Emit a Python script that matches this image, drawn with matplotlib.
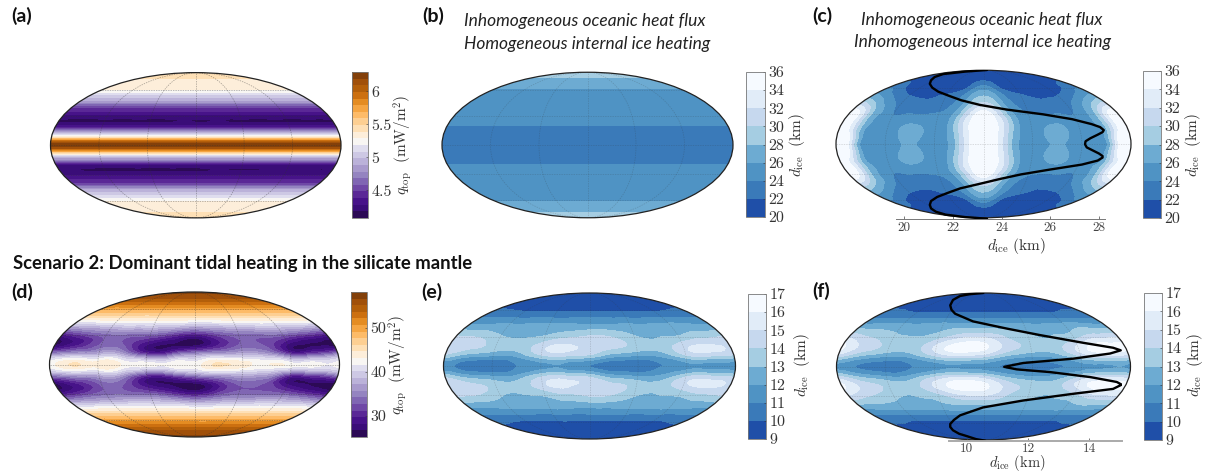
import numpy as np
import matplotlib
matplotlib.use("Agg")
import matplotlib.pyplot as plt
import matplotlib.tri as mtri
from matplotlib import ticker

W, H = 1210, 471
plt.rcParams["mathtext.fontset"] = "cm"
plt.rcParams["axes.unicode_minus"] = False

# ---------- palettes
ice_colors = ["#1f4fa8", "#3a7ab9", "#4f93c4", "#6dabd2", "#a5cde2", "#c6d8ee", "#e1ecf8", "#f6faff"]
q_colors = ["#2c0a55", "#3a0d78", "#471389", "#5a2896", "#6f48a6", "#8066b3", "#9484c0", "#a89acc",
            "#bbb2d9", "#cdc8e4", "#dfddee", "#f8f6f3", "#fdeeda", "#fee0b6", "#fdcf92",
            "#fdbb68", "#f5a542", "#e48c22", "#cc7010", "#b35f0a", "#a0500a", "#83400a"]

# ---------- (a) q_top, zonal profile, with the dark band per longitude
a_lat = [0, 2.5, 5, 7.5, 10, 12.5, 15, 17.5, 20, 25, 30, 35, 40, 47, 55, 61, 75, 90]
a_q = [6.28, 6.15, 5.8, 5.45, 5.15, 4.9, 4.7, 4.45, 4.25, 4.15, 4.25, 4.38, 4.5, 4.9, 5.12, 5.3, 5.38, 5.42]
a_lon = [-180, -165, -150, -135, -120, -105, -90, -75, -60, -45, -30, -15, 0, 15, 30, 45, 60, 75, 90, 105, 120, 135, 150, 165, 180]
a_dark_n = [4.15, 4.14, 4.14, 4.14, 4.15, 4.14, 4.14, 4.15, 4.14, 4.14, 4.15, 4.2, 4.15, 4.15, 4.21, 4.14, 4.15, 4.14, 4.14, 4.15, 4.14, 4.14, 4.15, 4.14, 4.15]
a_dark_s = [4.22, 4.22, 4.16, 4.14, 4.13, 4.13, 4.13, 4.14, 4.13, 4.13, 4.14, 4.13, 4.13, 4.15, 4.2, 4.16, 4.16, 4.16, 4.17, 4.17, 4.21, 4.22, 4.22, 4.16, 4.22]

# ---------- (b) d_ice, zonal profile
b_lat = [0, 20, 61, 78, 90]
b_d = [23.0, 24.0, 26.0, 28.0, 29.0]

# ---------- (c) d_ice, lon 0..180 (mirrored), lat 0..90 (mirrored)
c_lon = [0, 15, 30, 45, 60, 75, 90, 105, 120, 135, 150, 165, 180]
c_lat = [0, 10, 20, 30, 40, 50, 60, 70, 80, 90]
c_d = [
    [34.8, 34.3, 29.5, 25.7, 25.0, 25.6, 26.3, 25.6, 24.8, 24.6, 25.6, 34.0, 35.9],
    [35.9, 34.6, 30.0, 25.9, 25.1, 26.0, 26.9, 26.0, 25.0, 25.0, 26.5, 34.0, 35.9],
    [35.9, 34.6, 30.5, 26.0, 25.0, 25.5, 26.0, 25.5, 24.8, 25.3, 27.3, 33.0, 35.9],
    [35.5, 33.0, 28.5, 25.3, 24.3, 24.0, 24.0, 24.0, 24.0, 25.5, 28.0, 33.5, 35.9],
    [31.0, 29.5, 26.0, 24.0, 22.8, 22.4, 22.5, 22.7, 23.2, 25.0, 27.0, 30.0, 32.0],
    [28.0, 27.0, 24.5, 23.0, 22.3, 21.9, 21.7, 21.8, 22.1, 23.0, 24.5, 26.0, 27.0],
    [25.0, 24.0, 22.0, 21.0, 20.7, 20.6, 20.6, 20.7, 21.0, 21.5, 22.2, 23.5, 24.0],
    [21.9, 21.7, 21.2, 20.8, 20.6, 20.5, 20.5, 20.6, 20.8, 21.1, 21.4, 21.7, 22.0],
    [21.2, 21.1, 21.0, 20.9, 20.8, 20.8, 20.8, 20.8, 20.9, 21.0, 21.1, 21.2, 21.3],
    [21.0, 21.0, 21.0, 21.0, 21.0, 21.0, 21.0, 21.0, 21.0, 21.0, 21.0, 21.0, 21.0],
]
c_prof_lat = [90, 85, 80, 75, 70, 65, 60, 55, 50, 45, 40, 35, 30, 25, 20, 17, 14, 12, 9.5, 6, 3, 0,
              -3, -6, -9, -11.5, -13, -16, -20, -25, -30, -35, -40, -45, -50, -55, -60, -65, -70, -75, -80, -85, -90]
c_prof_d = [23.4, 22.5, 21.6, 21.25, 21.1, 21.05, 21.15, 21.4, 21.85, 22.35, 23.1, 24.2, 25.7, 26.9, 27.7, 28.05, 28.2, 28.15, 27.95, 27.65, 27.45, 27.43,
            27.5, 27.75, 28.0, 28.15, 28.15, 27.95, 27.3, 26.0, 24.8, 23.9, 23.1, 22.3, 21.8, 21.35, 21.1, 21.05, 21.1, 21.3, 21.7, 22.5, 23.4]

# ---------- (d,e,f) one half-turn of longitude, repeating every 180 deg
half_lon = [-180, -150, -120, -90, -60, -30]
half_lat = [0, 10, 20, 30, 40, 50, 60, 70, 80, 90]
d_q = [
    [42.5, 45.0, 44.0, 43.0, 42.5, 42.5],
    [36.0, 37.5, 38.0, 37.0, 32.0, 33.0],
    [26.0, 29.5, 33.0, 32.5, 28.0, 26.5],
    [29.0, 31.5, 33.5, 33.5, 33.0, 31.0],
    [38.0, 38.5, 39.0, 39.5, 39.5, 39.0],
    [45.0, 45.0, 45.0, 45.0, 45.0, 45.0],
    [49.5, 49.5, 49.5, 49.5, 49.5, 49.5],
    [53.5, 53.5, 53.5, 53.5, 53.5, 53.5],
    [56.0, 56.0, 56.0, 56.0, 56.0, 56.0],
    [57.5, 57.5, 57.5, 57.5, 57.5, 57.5],
]
e_d = [
    [11.0, 10.3, 10.3, 11.0, 11.6, 11.6],
    [13.6, 12.3, 11.9, 12.2, 13.7, 14.0],
    [14.7, 14.3, 13.6, 13.4, 14.6, 15.2],
    [14.1, 13.9, 13.1, 12.9, 13.1, 13.7],
    [12.5, 12.5, 12.4, 12.4, 12.5, 12.5],
    [11.1, 11.1, 11.1, 11.1, 11.1, 11.1],
    [9.9, 9.9, 9.9, 9.9, 9.9, 9.9],
    [9.5, 9.5, 9.5, 9.5, 9.5, 9.5],
    [9.2, 9.2, 9.2, 9.2, 9.2, 9.2],
    [9.5, 9.5, 9.5, 9.5, 9.5, 9.5],
]
f_d = [
    [11.6, 10.8, 10.4, 10.9, 11.5, 11.8],
    [14.2, 12.7, 12.0, 12.3, 13.8, 14.6],
    [16.3, 14.6, 13.7, 13.5, 15.2, 16.5],
    [14.8, 13.9, 13.2, 13.0, 13.5, 14.6],
    [12.8, 12.7, 12.6, 12.5, 12.7, 12.9],
    [11.0, 11.0, 11.0, 11.0, 11.0, 11.0],
    [9.8, 9.8, 9.8, 9.8, 9.8, 9.8],
    [9.4, 9.4, 9.4, 9.4, 9.4, 9.4],
    [9.2, 9.2, 9.2, 9.2, 9.2, 9.2],
    [9.3, 9.3, 9.3, 9.3, 9.3, 9.3],
]
# at 60 deg latitude the darkest band stops short of the map edge
edge_lon = [180, 150]
e_lat60_edge = [10.35, 10.05]
f_lat60_edge = [10.3, 10.05]

f_prof_lat = [90, 86, 82, 75, 67, 61, 56, 47, 39, 32, 24, 19, 16.4, 13.2, 8.1, 3.8, 0,
              -2.5, -5.2, -10.1, -15, -17.7, -22, -27, -34, -41.5, -50.5, -56, -61, -65, -69.7, -75, -79, -85, -90]
f_prof_d = [10.54, 10.1, 9.78, 9.55, 9.46, 9.5, 9.62, 10.2, 11.3, 12.39, 13.8, 14.77, 15.02, 14.67, 13.47, 11.84, 11.22,
            11.63, 12.72, 14.02, 14.89, 15.05, 14.77, 13.47, 11.84, 10.53, 9.78, 9.58, 9.46, 9.46, 9.55, 9.75, 10.0, 10.3, 10.6]

a_ticks = [4.5, 5, 5.5, 6]
d_ticks = [30, 40, 50]
bc_ticks = [20, 22, 24, 26, 28, 30, 32, 34, 36]
ef_ticks = [9, 10, 11, 12, 13, 14, 15, 16, 17]
c_xticks = [20, 22, 24, 26, 28]
f_xticks = [10, 12, 14]

fig = plt.figure(figsize=(W / 100, H / 100), dpi=100)


def rect(x0, y0, x1, y1):
    return [x0 / W, 1 - y1 / H, (x1 - x0) / W, (y1 - y0) / H]


def moll_y(lat):
    phi = np.radians(np.asarray(lat, float))
    th = phi.copy()
    for _ in range(60):
        den = 2 + 2 * np.cos(2 * th)
        den = np.where(np.abs(den) < 1e-8, 1e-8, den)
        th = th - (2 * th + np.sin(2 * th) - np.pi * np.sin(phi)) / den
    return np.sin(th)


def mirror_lat(lat, Z):
    lat = np.asarray(lat, float)
    Z = np.asarray(Z, float)
    return np.r_[-lat[:0:-1], lat], np.vstack([Z[:0:-1], Z])


def zonal(lat, vals):
    la, Z = mirror_lat(lat, np.asarray(vals)[:, None])
    return np.array([-180.0, 180.0]), la, np.hstack([Z, Z])


def half_turn(table, lat60_edge=None):
    T = np.asarray(table, float)
    lon = np.r_[half_lon, np.asarray(half_lon) + 180, 180.0]
    Z = np.hstack([T, T, T[:, :1]])
    if lat60_edge is not None:
        row = half_lat.index(60)
        for ln, v in zip(edge_lon, lat60_edge):
            Z[row, np.abs(np.abs(lon) - ln) < 1e-6] = v
    la, Zm = mirror_lat(half_lat, Z)
    return lon, la, Zm


def map_panel(box, cbox, lon, lat, Z, levels, colors, ticks=(), clabel="", clabel_xy=(0, 0), grid_alpha=0.22, curved=False):
    ax = fig.add_axes(rect(*box), projection="mollweide")
    levels = np.asarray(levels, float)
    LON, LAT = np.meshgrid(np.radians(lon), np.radians(lat))
    if curved:
        tri = mtri.Triangulation(LON.ravel(), LAT.ravel())
        fine, zfine = mtri.UniformTriRefiner(tri).refine_field(np.asarray(Z).ravel(), subdiv=3)
        zfine = np.clip(zfine, levels[0] + 1e-6, levels[-1] - 1e-6)
        cs = ax.tricontourf(fine, zfine, levels=levels, colors=colors)
    else:
        cs = ax.contourf(LON, LAT, Z, levels=levels, colors=colors)
    ax.set_longitude_grid(60)
    ax.set_latitude_grid(30)
    ax.set_longitude_grid_ends(90)
    ax.set_xticklabels([])
    ax.set_yticklabels([])
    ax.set_axisbelow(False)
    ax.grid(True, color="#333333", alpha=grid_alpha, lw=0.5, ls=(0, (2, 1.5)))
    ax.spines["geo"].set_linewidth(0.9)
    ax.spines["geo"].set_edgecolor("#222222")
    cax = fig.add_axes(rect(*cbox))
    cb = fig.colorbar(cs, cax=cax, ticks=list(ticks))
    cb.ax.yaxis.set_major_formatter(ticker.FormatStrFormatter("%g"))
    cb.ax.tick_params(length=1.5, width=0.4, direction="in", pad=2.5, colors="#333333", labelsize=11.5)
    for t in cb.ax.get_yticklabels():
        t.set_fontname("cmr10")
    cb.outline.set_linewidth(0.6)
    cb.outline.set_edgecolor("#777777")
    fig.text(clabel_xy[0] / W, 1 - clabel_xy[1] / H, clabel, rotation=90, ha="center", va="center", fontsize=11, color="#333333")
    return ax


def profile(box, xlim, xticks, prof_lat, prof_d, xlabel_y, axis_lw=0.7, axis_col="#777777", label_size=11, tick_pad=2.5):
    ax = fig.add_axes(rect(*box), facecolor="none")
    ax.plot(prof_d, moll_y(prof_lat), color="black", lw=1.7, solid_capstyle="round", solid_joinstyle="round")
    ax.set_xlim(*xlim)
    ax.set_ylim(-1, 1)
    ax.set_yticks([])
    ax.set_xticks(xticks)
    for s in ("top", "left", "right"):
        ax.spines[s].set_visible(False)
    ax.spines["bottom"].set_color(axis_col)
    ax.spines["bottom"].set_linewidth(axis_lw)
    ax.tick_params(axis="x", length=2, width=0.5, direction="in", pad=tick_pad, labelsize=9.5, colors="#444444")
    for t in ax.get_xticklabels():
        t.set_fontname("cmr10")
    fig.text(1017 / W, 1 - xlabel_y / H, r"$d_{\rm ice}\ ({\rm km})$", ha="center", va="center", fontsize=label_size, color="#333333")


Q_LABEL = r"$q_{\rm top}\ \ ({\rm mW/m^2})$"
D_LABEL = r"$d_{\rm ice}\ \ ({\rm km})$"

# ----- (a)
a_la, a_col = mirror_lat(a_lat, np.asarray(a_q)[:, None])
a_Z = np.tile(a_col, (1, len(a_lon)))
a_Z[list(a_la).index(25.0)] = a_dark_n
a_Z[list(a_la).index(-25.0)] = a_dark_s
map_panel((50.5, 72.5, 341, 218), (352, 72, 368, 218), a_lon, a_la, a_Z,
          np.linspace(4.08, 6.29, 23), q_colors, ticks=a_ticks,
          clabel=Q_LABEL, clabel_xy=(403, 145), grid_alpha=0.45)
# ----- (b)
lon, la, Z = zonal(b_lat, np.asarray(b_d))
map_panel((442, 72, 733, 218), (746, 72, 765, 217), lon, la, Z, bc_ticks, ice_colors, ticks=bc_ticks,
          clabel=D_LABEL, clabel_xy=(797, 145))
# ----- (c)
c_T = np.asarray(c_d)
c_L = np.r_[-np.asarray(c_lon[:0:-1], float), c_lon]
la, Z = mirror_lat(c_lat, np.hstack([c_T[:, :0:-1], c_T]))
map_panel((836, 70, 1131, 218), (1143, 71, 1161, 218), c_L, la, Z, bc_ticks, ice_colors, ticks=bc_ticks,
          clabel=D_LABEL, clabel_xy=(1193, 145), curved=True)
profile((896, 70, 1105, 218.7), (19.66, 28.25), c_xticks, c_prof_lat, c_prof_d, 245.5)
# ----- (d)
lon, la, Z = half_turn(d_q)
map_panel((49, 292, 340, 437), (351, 292, 367, 437), lon, la, Z,
          np.linspace(25.2, 58.2, 23), q_colors, ticks=d_ticks,
          clabel=Q_LABEL, clabel_xy=(398, 365), grid_alpha=0.45, curved=True)
# ----- (e)
lon, la, Z = half_turn(e_d, e_lat60_edge)
map_panel((443, 293, 736, 439), (748, 294, 766, 439), lon, la, Z, ef_ticks, ice_colors, ticks=ef_ticks,
          clabel=D_LABEL, clabel_xy=(802, 365), curved=True)
# ----- (f)
lon, la, Z = half_turn(f_d, f_lat60_edge)
map_panel((836, 293, 1131, 440), (1144, 293, 1162, 440), lon, la, Z, ef_ticks, ice_colors, ticks=ef_ticks,
          clabel=D_LABEL, clabel_xy=(1195, 365), curved=True)
profile((949, 293, 1122.3, 440.7), (9.42, 15.07), f_xticks, f_prof_lat, f_prof_d, 463, axis_lw=1.4, axis_col="#aaaaaa", label_size=10.5, tick_pad=1.5)

# ----- text
FONT = "Lato"
for s, x, y in [("(a)", 11, 16), ("(b)", 422, 16), ("(c)", 812, 16), ("(d)", 11, 292), ("(e)", 421, 292), ("(f)", 812, 291)]:
    fig.text(x / W, 1 - y / H, s, fontweight="bold", fontsize=14, family=FONT, ha="left", va="center", color="#111111")
for s, x, y in [("Inhomogeneous oceanic heat flux", 464, 21),
                ("Homogeneous internal ice heating", 464, 44)]:
    fig.text(x / W, 1 - y / H, s, style="italic", fontsize=12.5, family=FONT, ha="left", va="center", color="#222222")
for s, y in [("Inhomogeneous oceanic heat flux", 20), ("Inhomogeneous internal ice heating", 42)]:
    fig.text(982 / W, 1 - y / H, s, style="italic", fontsize=12.5, family=FONT, ha="center", va="center", color="#222222")
fig.text(13 / W, 1 - 264 / H, "Scenario 2: Dominant tidal heating in the silicate mantle", fontweight="bold", fontsize=13.3, family=FONT, ha="left", va="center", color="#111111")

fig.savefig("out.png", dpi=100)
